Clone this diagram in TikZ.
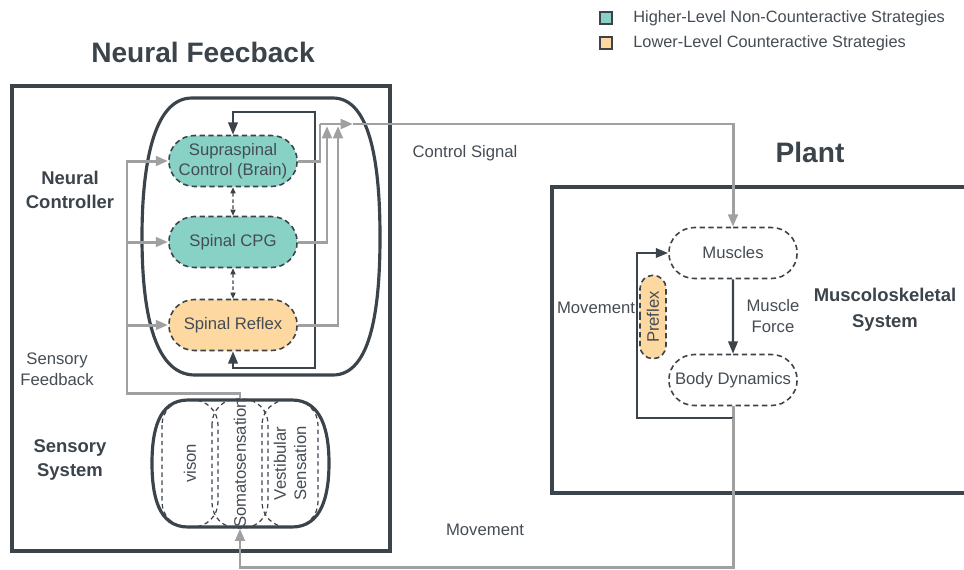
\documentclass[tikz,border=0pt]{standalone}
\usepackage{fontspec}
\setmainfont{Liberation Sans}
\usetikzlibrary{arrows.meta,shapes.misc,positioning}

\definecolor{ink}{HTML}{3B434B}
\definecolor{txt}{HTML}{454C54}
\definecolor{wire}{HTML}{A0A0A0}
\definecolor{hicol}{HTML}{87D2C4}
\definecolor{locol}{HTML}{FDD8A0}

\tikzset{
  tip/.tip={Triangle[length=7pt,width=5.4pt]},
  blk/.style={draw=ink, line width=0.9pt, dash pattern=on 3pt off 2pt,
    rounded rectangle, minimum width=2.8cm, minimum height=1.02cm,
    align=center, text=txt, font=\fontsize{9.5}{11.5}\selectfont},
  hi/.style={blk, fill=hicol},
  lo/.style={blk, fill=locol},
  plain/.style={blk, fill=white},
  sens/.style={draw=ink, line width=0.7pt, dash pattern=on 2.5pt off 2pt,
    rounded corners=0.5cm, rotate=90, inner sep=0pt, minimum width=2.54cm,
    minimum height=1.12cm, align=center, text=txt,
    font=\fontsize{9.5}{11.5}\selectfont},
  frame/.style={draw=ink, line width=1.8pt},
  sig/.style={draw=wire, line width=1.7pt},
  fb/.style={draw=ink, line width=1.2pt},
  lbl/.style={text=txt, align=center, font=\fontsize{9.5}{12.5}\selectfont},
  head/.style={text=ink, align=center, font=\fontsize{10.5}{14}\selectfont\bfseries},
  title/.style={text=ink, font=\fontsize{16}{19}\selectfont\bfseries},
  legsq/.style={draw=ink, line width=1.3pt, minimum size=0.24cm, inner sep=0pt},
  legtxt/.style={text=txt, font=\fontsize{9.3}{11}\selectfont},
}

\begin{document}
\begin{tikzpicture}[x=0.02cm, y=-0.02cm]
  \useasboundingbox (0,0) rectangle (964,569);

  % legend
  \node[legsq, fill=hicol] (leghi) at (606,18) {};
  \node[legsq, fill=locol] (leglo) at (606,43) {};
  \node[legtxt, right=0.28cm of leghi] (leghitxt) {Higher-Level Non-Counteractive Strategies};
  \node[legtxt, right=0.28cm of leglo] (leglotxt) {Lower-Level Counteractive Strategies};

  % titles and frames
  \node[title] (nftitle) at (203,52) {Neural Feecback};
  \node[title] (plttitle) at (810,152) {Plant};
  \draw[frame] (12,86) rectangle (390,551);
  \draw[frame] (968,187) -- (552,187) -- (552,493) -- (968,493);

  % neural controller outline
  \draw[frame] (192,98) -- (333,98)
    .. controls (372,98) and (380,170) .. (380,237)
    .. controls (380,305) and (372,375) .. (333,375) -- (195,375)
    .. controls (152,375) and (142,305) .. (142,237)
    .. controls (142,170) and (152,98) .. (192,98) -- cycle;

  \node[hi] (supra) at (233,161) {Supraspinal\\Control (Brain)};
  \node[hi] (cpg) at (233,242) {Spinal CPG};
  \node[lo] (reflex) at (233,325) {Spinal Reflex};

  \draw[ink, line width=0.6pt, dash pattern=on 2pt off 1.5pt,
    {Triangle[length=3.5pt,width=3pt]}-{Triangle[length=3.5pt,width=3pt]}] (supra) -- (cpg);
  \draw[ink, line width=0.6pt, dash pattern=on 2pt off 1.5pt,
    {Triangle[length=3.5pt,width=3pt]}-{Triangle[length=3.5pt,width=3pt]}] (cpg) -- (reflex);

  % inner loop
  \coordinate (looptop) at (315,112);
  \coordinate (loopbot) at (315,368);
  \draw[fb, tip-tip] (reflex.south) |- (loopbot) -- (looptop) -| (supra.north);

  % sensory system (rotated nodes: east is up, west is down)
  \draw[frame] (188,400) -- (292,400)
    .. controls (322,400) and (329,432) .. (329,463)
    .. controls (329,495) and (322,527) .. (292,527) -- (188,527)
    .. controls (158,527) and (152,495) .. (152,463)
    .. controls (152,432) and (158,400) .. (188,400) -- cycle;
  \node[sens] (vision) at (190,463.5) {vison};
  \node[sens] (soma) at (240,463.5) {Somatosensation};
  \node[sens] (vest) at (290,463.5) {Vestibular\\Sensation};

  % control signal
  \coordinate (sigjoin) at (320,124);
  \coordinate (sighead) at (353,124);
  \coordinate (sigturn) at (733,124);
  \coordinate (cpgin) at (327,126);
  \coordinate (reflexin) at (338,126);
  \draw[sig] (supra.east) -| (sigjoin);
  \draw[sig, -tip] (sigjoin) -- (sighead);
  \draw[sig, -tip] (cpg.east) -| (cpgin);
  \draw[sig, -tip] (reflex.east) -| (reflexin);

  % plant
  \node[plain] (muscles) at (733,253) {Muscles};
  \node[plain] (body) at (733,380) {Body Dynamics};
  \node[lo, rotate=90, minimum width=1.74cm, minimum height=0.52cm,
    inner sep=1pt] (preflex) at (653,317) {Preflex};
  \draw[sig, -tip] (sighead) -- (sigturn) -- (muscles.north);
  \draw[fb, -tip] (muscles) -- (body);
  \coordinate (plbot) at (733,418);
  \coordinate (plleft) at (637,418);
  \draw[sig] (body.south) -- (plbot);
  \draw[fb, -tip] (plbot) -- (plleft) |- (muscles.west);

  % sensory feedback
  \coordinate (fbcorner) at (127,393);
  \draw[sig, -tip] (soma.east) |- (fbcorner) |- (supra.west);
  \draw[sig, -tip] (fbcorner |- cpg.west) -- (cpg.west);
  \draw[sig, -tip] (fbcorner |- reflex.west) -- (reflex.west);

  % movement back to the senses
  \coordinate (mvcorner) at (733,567);
  \draw[sig, -tip] (plbot) -- (mvcorner) -| (soma.west);

  % labels
  \node[lbl] (ctrlsig) at (465,153) {Control Signal};
  \node[lbl] (mvlbl) at (485,530) {Movement};
  \node[lbl] (mvplant) at (596,308) {Movement};
  \node[lbl, font=\fontsize{9.5}{12}\selectfont] (force) at (773,316) {Muscle\\Force};
  \node[lbl, font=\fontsize{9.5}{12}\selectfont] (sfb) at (57,369) {Sensory\\Feedback};
  \node[head] (ctrlhead) at (70,190) {Neural\\Controller};
  \node[head] (senshead) at (70,460) {Sensory\\System};
  \node[head, font=\fontsize{10.5}{15}\selectfont\bfseries] (mshead) at (885,310) {Muscoloskeletal\\System};
\end{tikzpicture}
\end{document}
